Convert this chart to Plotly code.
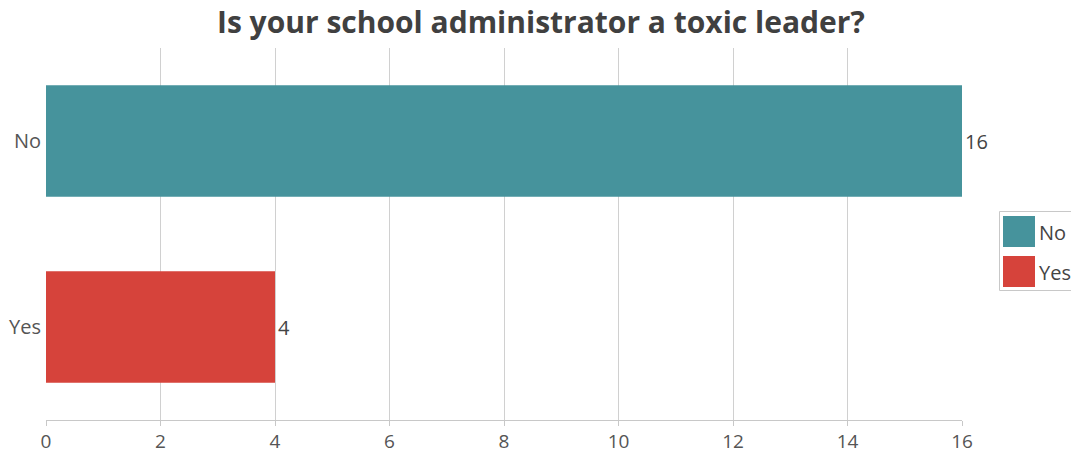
import plotly.graph_objects as go

categories = ["No", "Yes"]
values = [16, 4]
colors = ["#46939C", "#D6433B"]
x_ticks = [0, 2, 4, 6, 8, 10, 12, 14, 16]
title_text = "Is your school administrator a toxic leader?"

W, H = 1071, 454
L, R, T, B = 46, 109, 48, 34
PW, PH = W - L - R, H - T - B


def px(x):
    return (x - L) / PW


def py(y):
    return (H - B - y) / PH


fig = go.Figure()
for cat, val, col in zip(categories, values, colors):
    fig.add_trace(go.Bar(
        y=[cat], x=[val], name=cat, orientation="h",
        marker=dict(color=col, line=dict(width=0)),
        text=[str(val)], textposition="outside", cliponaxis=False,
        textfont=dict(size=20, color="#444444"),
        showlegend=False, hoverinfo="x+y",
    ))

# legend drawn as shapes + text (large square swatches like the reference)
shapes = [dict(type="rect", xref="paper", yref="paper",
               x0=px(999.5), x1=px(1090), y0=py(211.5), y1=py(290.5),
               line=dict(color="#C8C8C8", width=1), fillcolor="rgba(0,0,0,0)", layer="above")]
annotations = []
for i, (cat, col) in enumerate(zip(categories, colors)):
    top = 216 + i * 40
    shapes.append(dict(type="rect", xref="paper", yref="paper",
                       x0=px(1003), x1=px(1035), y0=py(top), y1=py(top + 31),
                       line=dict(width=0), fillcolor=col))
    annotations.append(dict(text=cat, xref="paper", yref="paper",
                            x=px(1037), y=py(top + 16), xanchor="left", yanchor="middle",
                            showarrow=False, font=dict(size=20, color="#444444")))

fig.update_layout(
    width=W, height=H,
    margin=dict(l=L, r=R, t=T, b=B),
    paper_bgcolor="white", plot_bgcolor="white",
    font=dict(family="Open Sans, Segoe UI, sans-serif", size=20, color="#444444"),
    title=dict(text="<b>" + title_text + "</b>", x=0.505, xanchor="center",
               y=0.95, yanchor="middle", font=dict(size=30, color="#404040")),
    barmode="overlay", bargap=0.4,
    showlegend=False,
    shapes=shapes, annotations=annotations,
    xaxis=dict(range=[0, 16], tickvals=x_ticks, showgrid=True, gridcolor="#D0D0D0",
               gridwidth=1, zeroline=False, showline=True, linecolor="#C8C8C8",
               ticks="outside", ticklen=5, tickcolor="#C8C8C8", automargin=False,
               ticklabelstandoff=-1,
               tickfont=dict(size=19, color="#555555")),
    yaxis=dict(categoryorder="array", categoryarray=["Yes", "No"], showgrid=False,
               zeroline=False, showline=False, ticks="", ticklabelstandoff=4,
               automargin=False, tickfont=dict(size=20, color="#555555")),
)

fig.write_html("out.html", config={"responsive": False, "displayModeBar": False},
               post_script="document.body.style.margin='0';document.body.style.overflow='hidden';")
